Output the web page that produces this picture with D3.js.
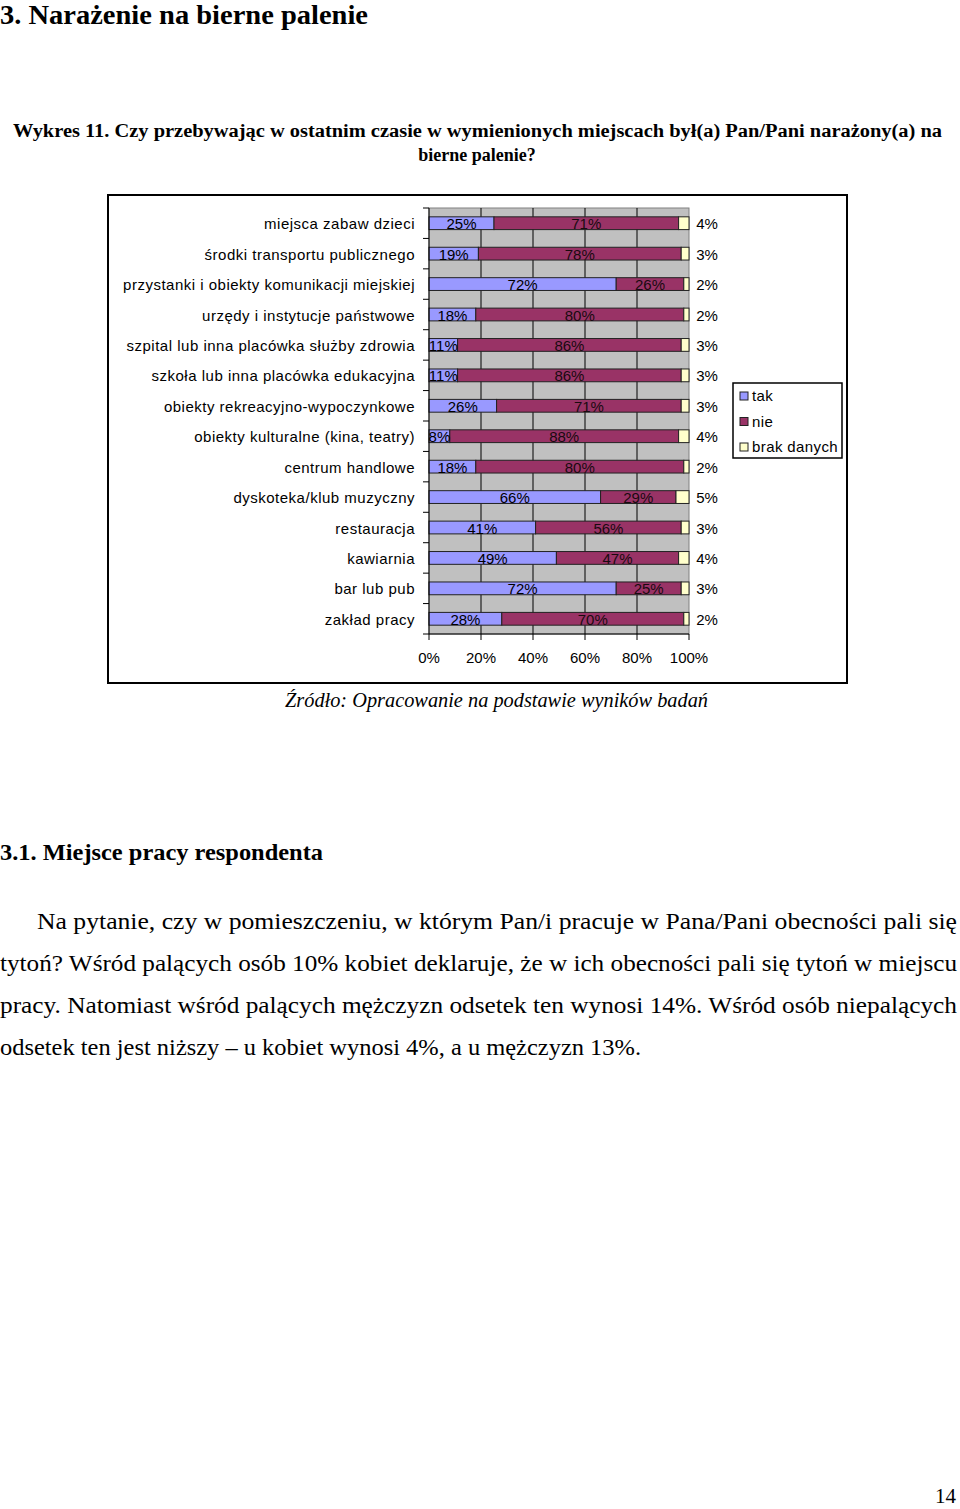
<!doctype html>
<html>
  <head>
    <meta charset="utf8">
    <script src="https://d3js.org/d3.v7.min.js"></script>
    <style type="text/css">
      body { margin: 0; background: #fff; }
      svg { display: block; }
    </style>
  </head>
  <body>
    <script type="text/javascript">
      const W = 960;
      const H = 1509;

      // data
      const categories = [
        'miejsca zabaw dzieci', 'środki transportu publicznego',
        'przystanki i obiekty komunikacji miejskiej', 'urzędy i instytucje państwowe',
        'szpital lub inna placówka służby zdrowia', 'szkoła lub inna placówka edukacyjna',
        'obiekty rekreacyjno-wypoczynkowe', 'obiekty kulturalne (kina, teatry)',
        'centrum handlowe', 'dyskoteka/klub muzyczny', 'restauracja',
        'kawiarnia', 'bar lub pub', 'zakład pracy'
      ];
      const tak  = [25, 19, 72, 18, 11, 11, 26, 8, 18, 66, 41, 49, 72, 28];
      const nie  = [71, 78, 26, 80, 86, 86, 71, 88, 80, 29, 56, 47, 25, 70];
      const brak = [4, 3, 2, 2, 3, 3, 3, 4, 2, 5, 3, 4, 3, 2];
      const seriesNames = ['tak', 'nie', 'brak danych'];
      const colors = ['#9999ff', '#993366', '#ffffcc'];
      const xTicks = [0, 20, 40, 60, 80, 100];

      const paragraph = [
        'Na pytanie, czy w pomieszczeniu, w którym Pan/i pracuje w Pana/Pani obecności pali się',
        'tytoń? Wśród palących osób 10% kobiet deklaruje, że w ich obecności pali się tytoń w miejscu',
        'pracy. Natomiast wśród palących mężczyzn odsetek ten wynosi 14%. Wśród osób niepalących',
        'odsetek ten jest niższy – u kobiet wynosi 4%, a u mężczyzn 13%.'
      ];

      const serif = "'Liberation Serif', 'Times New Roman', serif";
      const sans = "'Liberation Sans', Arial, sans-serif";

      const svg = d3.select('body').append('svg')
        .attr('width', W)
        .attr('height', H);

      // page text
      svg.append('text')
        .attr('x', 0).attr('y', 24)
        .attr('textLength', 368).attr('lengthAdjust', 'spacingAndGlyphs')
        .attr('font-family', serif).attr('font-weight', 'bold').attr('font-size', 28)
        .text('3. Narażenie na bierne palenie');

      svg.append('text')
        .attr('x', 13).attr('y', 137)
        .attr('textLength', 929).attr('lengthAdjust', 'spacingAndGlyphs')
        .attr('font-family', serif).attr('font-weight', 'bold').attr('font-size', 18)
        .text('Wykres 11. Czy przebywając w ostatnim czasie w wymienionych miejscach był(a) Pan/Pani narażony(a) na');
      svg.append('text')
        .attr('x', 477).attr('y', 161).attr('text-anchor', 'middle')
        .attr('font-family', serif).attr('font-weight', 'bold').attr('font-size', 18)
        .text('bierne palenie?');

      // chart frame
      svg.append('rect')
        .attr('x', 108).attr('y', 195).attr('width', 739).attr('height', 488)
        .attr('fill', '#fff').attr('stroke', '#000').attr('stroke-width', 2);

      const x = d3.scaleLinear().domain([0, 100]).range([429, 689]);
      const y = d3.scaleBand().domain(categories).range([208, 634]).paddingInner(0.58).paddingOuter(0.29);
      const band = d3.scaleBand().domain(categories).range([208, 634]);

      // plot area
      svg.append('rect')
        .attr('x', x(0)).attr('y', 208).attr('width', x(100) - x(0)).attr('height', 634 - 208)
        .attr('fill', '#c0c0c0').attr('stroke', '#808080');

      const g = svg.append('g');
      g.selectAll('line.grid')
        .data(xTicks.slice(1, -1))
        .enter().append('line')
        .attr('x1', (d) => x(d)).attr('x2', (d) => x(d))
        .attr('y1', 208).attr('y2', 634)
        .attr('stroke', '#000');

      // stacked bars
      const rows = categories.map((c, i) => ({ cat: c, vals: [tak[i], nie[i], brak[i]] }));
      const stack = d3.stack().keys([0, 1, 2]).value((d, k) => d.vals[k]);
      const layers = stack(rows);

      layers.forEach((layer, k) => {
        g.selectAll('rect.s' + k)
          .data(layer)
          .enter().append('rect')
          .attr('x', (d) => x(d[0]))
          .attr('y', (d) => y(d.data.cat))
          .attr('width', (d) => x(d[1]) - x(d[0]))
          .attr('height', y.bandwidth())
          .attr('fill', colors[k])
          .attr('stroke', '#222')
          .attr('stroke-width', 1);
      });

      // value labels
      layers.forEach((layer, k) => {
        g.selectAll('text.l' + k)
          .data(layer)
          .enter().append('text')
          .attr('x', (d) => k === 2 ? x(100) + 18 : (x(d[0]) + x(d[1])) / 2)
          .attr('y', (d) => y(d.data.cat) + y.bandwidth() / 2 + 6)
          .attr('text-anchor', 'middle')
          .attr('font-family', sans).attr('font-size', 15)
          .attr('fill', k === 1 ? '#1a0a10' : '#000')
          .text((d) => (d[1] - d[0]) + '%');
      });

      // axes
      svg.append('line')
        .attr('x1', x(0)).attr('x2', x(0)).attr('y1', 208).attr('y2', 634)
        .attr('stroke', '#000');
      svg.append('line')
        .attr('x1', x(0)).attr('x2', x(100)).attr('y1', 634).attr('y2', 634)
        .attr('stroke', '#000');

      svg.selectAll('line.ytick')
        .data(categories)
        .enter().append('line')
        .attr('x1', x(0) - 6).attr('x2', x(0))
        .attr('y1', (d) => band(d)).attr('y2', (d) => band(d))
        .attr('stroke', '#000');
      svg.append('line')
        .attr('x1', x(0) - 6).attr('x2', x(0)).attr('y1', 634).attr('y2', 634)
        .attr('stroke', '#000');

      svg.selectAll('text.cat')
        .data(categories)
        .enter().append('text')
        .attr('x', 415)
        .attr('y', (d) => band(d) + band.bandwidth() / 2 + 6)
        .attr('text-anchor', 'end')
        .attr('font-family', sans).attr('font-size', 15).attr('letter-spacing', 0.5)
        .text((d) => d);

      svg.selectAll('line.xtick')
        .data(xTicks)
        .enter().append('line')
        .attr('x1', (d) => x(d)).attr('x2', (d) => x(d))
        .attr('y1', 634).attr('y2', 640)
        .attr('stroke', '#000');

      svg.selectAll('text.xt')
        .data(xTicks)
        .enter().append('text')
        .attr('x', (d) => x(d))
        .attr('y', 663)
        .attr('text-anchor', 'middle')
        .attr('font-family', sans).attr('font-size', 15)
        .text((d) => d + '%');

      // legend
      const leg = svg.append('g');
      leg.append('rect')
        .attr('x', 733).attr('y', 383).attr('width', 109).attr('height', 75)
        .attr('fill', '#fff').attr('stroke', '#000').attr('stroke-width', 1.5);
      seriesNames.forEach((name, k) => {
        leg.append('rect')
          .attr('x', 740).attr('y', 392 + k * 25.5).attr('width', 8).attr('height', 8)
          .attr('fill', colors[k]).attr('stroke', '#222');
        leg.append('text')
          .attr('x', 752).attr('y', 401 + k * 25.5)
          .attr('font-family', sans).attr('font-size', 15).attr('letter-spacing', 0.4)
          .text(name);
      });

      // source
      svg.append('text')
        .attr('x', 285).attr('y', 707)
        .attr('textLength', 423).attr('lengthAdjust', 'spacingAndGlyphs')
        .attr('font-family', serif).attr('font-style', 'italic').attr('font-size', 20)
        .text('Źródło: Opracowanie na podstawie wyników badań');

      // section heading and paragraph
      svg.append('text')
        .attr('x', 0).attr('y', 860)
        .attr('textLength', 323).attr('lengthAdjust', 'spacingAndGlyphs')
        .attr('font-family', serif).attr('font-weight', 'bold').attr('font-size', 23)
        .text('3.1. Miejsce pracy respondenta');

      const starts = [37, 0, 0, 0];
      const ends = [957, 957, 957, 641];
      svg.selectAll('text.par')
        .data(paragraph)
        .enter().append('text')
        .attr('x', (d, i) => starts[i])
        .attr('y', (d, i) => 929 + i * 42)
        .attr('textLength', (d, i) => ends[i] - starts[i])
        .attr('lengthAdjust', 'spacingAndGlyphs')
        .attr('font-family', serif).attr('font-size', 23)
        .text((d) => d);

      svg.append('text')
        .attr('x', 956).attr('y', 1503).attr('text-anchor', 'end')
        .attr('font-family', serif).attr('font-size', 21)
        .text('14');
    </script>
  </body>
</html>
